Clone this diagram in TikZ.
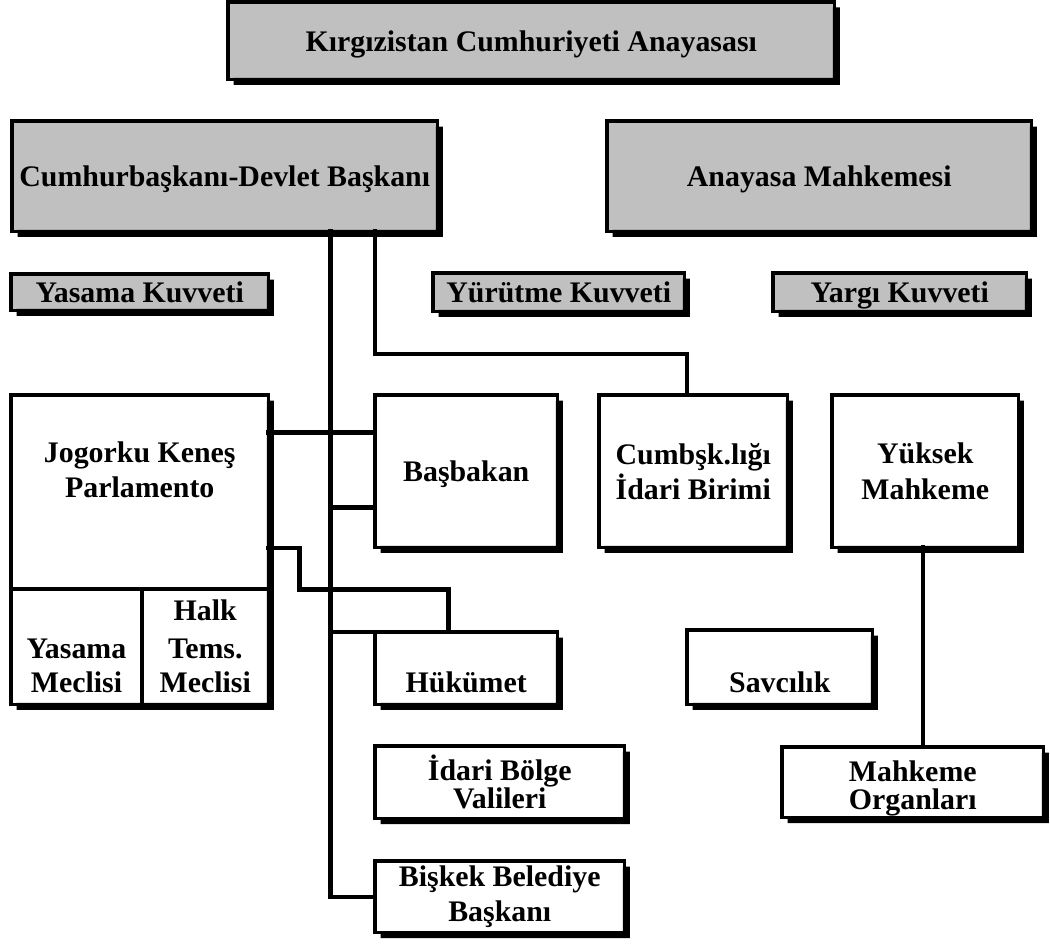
\documentclass[tikz,border=0pt]{standalone}
\usepackage{fontspec}
\setmainfont{Liberation Serif}
\definecolor{kgray}{HTML}{C0C0C0}

\begin{document}
\begin{tikzpicture}[x=0.02cm, y=-0.02cm,
  font=\fontsize{17}{20}\selectfont\bfseries,
  box/.style={draw=black, line width=0.07cm, fill=white, inner sep=1pt, outer sep=0pt, align=center},
  gbox/.style={box, fill=kgray, oneline},
  oneline/.style={text height=0.46cm, text depth=0.04cm},
  dropfill/.style={fill=black},
  link/.style={draw=black, line width=0.09cm, line cap=rect},
  lbl/.style={anchor=south, inner sep=0pt, align=center, yshift=#1},
  tight/.style={font=\fontsize{17}{16}\selectfont\bfseries}]
  \useasboundingbox (0,0) rectangle (1050,945);

  \node[gbox, minimum width=12.13cm, minimum height=1.55cm] (title) at (531.25,40.75) {Kırgızistan Cumhuriyeti Anayasası};
  \node[gbox, minimum width=8.51cm, minimum height=2.21cm] (pres) at (224.75,176.25) {Cumhurbaşkanı-Devlet Başkanı};
  \node[gbox, minimum width=8.49cm, minimum height=2.21cm] (court) at (819.25,176.25) {Anayasa Mahkemesi};
  \node[gbox, minimum width=5.15cm, minimum height=0.73cm] (yasK) at (139.75,292.25) {Yasama Kuvveti};
  \node[gbox, minimum width=5.03cm, minimum height=0.77cm] (yurK) at (558.75,292.25) {Yürütme Kuvveti};
  \node[gbox, minimum width=5.07cm, minimum height=0.77cm] (yarK) at (899.75,292.25) {Yargı Kuvveti};

  \node[box, minimum width=5.15cm, minimum height=3.88cm,
        label={[anchor=north, inner sep=0pt, align=center, yshift=-0.935cm]north:{Jogorku Keneş\\Parlamento}}] (jk) at (139.75,492) {};
  \node[box, minimum width=2.62cm, minimum height=2.31cm,
        label={[lbl=0.23cm, font=\fontsize{17}{19}\selectfont\bfseries]south:{Yasama\\Meclisi}}] (yasm) at (76.5,646.75) {};
  \node[box, minimum width=2.53cm, minimum height=2.31cm,
        label={[lbl=0.23cm, font=\fontsize{17}{19}\selectfont\bfseries]south:{Halk\\[3pt]Tems.\\Meclisi}}] (halk) at (205.25,646.75) {};

  \node[box, oneline, minimum width=3.65cm, minimum height=3.05cm] (basb) at (466.25,471.25) {Başbakan};
  \node[box, minimum width=3.77cm, minimum height=3.05cm] (cumb) at (693.25,471.25) {Cumbşk.lığı\\İdari Birimi};
  \node[box, minimum width=3.73cm, minimum height=3.05cm] (yuk) at (925.25,471.25) {Yüksek\\Mahkeme};
  \node[box, minimum width=3.65cm, minimum height=1.45cm, label={[lbl=0.23cm]south:Hükümet}] (huk) at (466.25,668.25) {};
  \node[box, minimum width=3.71cm, minimum height=1.49cm, label={[lbl=0.23cm]south:Savcılık}] (savc) at (779.75,667.25) {};
  \node[box, tight, minimum width=4.99cm, minimum height=1.45cm] (idari) at (499.75,782.25) {İdari Bölge\\Valileri};
  \node[box, minimum width=4.99cm, minimum height=1.43cm] (bisk) at (499.75,896.75) {Bişkek Belediye\\Başkanı};
  \node[box, minimum width=5.23cm, minimum height=1.41cm,
        label={[lbl=0.02cm, tight]south:{Mahkeme\\Organları}}] (mahk) at (912.75,782.25) {};

  \foreach \n in {title,pres,court,yasK,yurK,yarK,basb,cumb,yuk,huk,savc,idari,bisk,mahk}
    \fill[dropfill] ([xshift=-0.03cm,yshift=-0.11cm]\n.north east) -- ++(0.14cm,0) |- ([xshift=0.11cm,yshift=-0.11cm]\n.south west)
      -- ([xshift=0.11cm,yshift=0.03cm]\n.south west) -- ([xshift=-0.03cm,yshift=0.03cm]\n.south east) -- cycle;
  \fill[dropfill] ([xshift=-0.03cm,yshift=-0.11cm]jk.north east) -- ++(0.14cm,0) |- ([xshift=0.11cm,yshift=-0.11cm]yasm.south west)
    -- ([xshift=0.11cm,yshift=0.03cm]yasm.south west) -- ([xshift=-0.03cm,yshift=0.03cm]halk.south east) -- cycle;

  \coordinate (trunk) at (330.5,0);
  \coordinate (br) at (375,354);
  \coordinate (kn) at (299.5,548);
  \coordinate (kh) at (448.5,589.5);

  \draw[link] (pres.south -| trunk) |- (bisk.west);
  \draw[link] (pres.south -| br) -- (br) -| ([xshift=-0.125cm]cumb.north);
  \draw[link] (jk.east |- 0,432.5) -- (basb.west |- 0,432.5);
  \draw[link] (trunk |- 0,507.5) -- (basb.west |- 0,507.5);
  \draw[link] (jk.east |- kn) -- (kn) |- (kh) -- (kh |- huk.north);
  \draw[link] (trunk |- huk.north west) -- (huk.north west);
  \draw[link] ([xshift=-0.05cm]yuk.south) -- ([xshift=-0.05cm]yuk.south |- mahk.north);
\end{tikzpicture}
\end{document}
